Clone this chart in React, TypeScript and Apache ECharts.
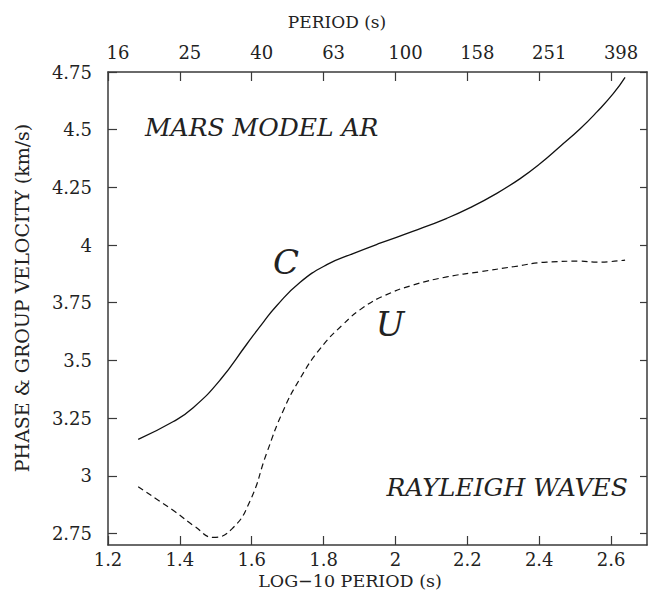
import React, { useEffect, useRef } from "react";
import * as echarts from "echarts";

// Axis ticks
const xTicks = [1.2, 1.4, 1.6, 1.8, 2, 2.2, 2.4, 2.6];
const periodLabels = ["16", "25", "40", "63", "100", "158", "251", "398"];
const yTicks = [2.75, 3, 3.25, 3.5, 3.75, 4, 4.25, 4.5, 4.75];

// Phase velocity C (solid)
const logPeriodC = [1.284, 1.382, 1.437, 1.512, 1.586, 1.632, 1.67, 1.734, 1.809, 1.882, 1.957, 2.05, 2.143, 2.208, 2.282, 2.347, 2.402, 2.458, 2.514, 2.56, 2.606, 2.639];
const phaseVelocity = [3.158, 3.235, 3.295, 3.415, 3.57, 3.665, 3.738, 3.838, 3.915, 3.963, 4.008, 4.06, 4.116, 4.162, 4.224, 4.288, 4.352, 4.427, 4.504, 4.576, 4.656, 4.727];

// Group velocity U (dashed)
const logPeriodU = [1.284, 1.386, 1.442, 1.493, 1.545, 1.595, 1.642, 1.687, 1.734, 1.79, 1.854, 1.911, 1.971, 2.05, 2.143, 2.235, 2.328, 2.421, 2.514, 2.56, 2.639];
const groupVelocity = [2.952, 2.845, 2.78, 2.733, 2.77, 2.89, 3.1, 3.28, 3.42, 3.55, 3.656, 3.73, 3.782, 3.827, 3.862, 3.884, 3.906, 3.926, 3.93, 3.926, 3.935];

const fmt = (v: number) => String(Math.round(v * 100) / 100);

export default function App() {
  const ref = useRef<HTMLDivElement>(null);
  useEffect(() => {
    const chart = echarts.init(ref.current!, null, { renderer: "svg" });
    const font = "DejaVu Serif";
    const ink = "#222";
    const frame = "#3a3a3a";
    const axisLine = { show: true, onZero: false, lineStyle: { color: frame, width: 1.5 } };
    const tickStyle = { color: frame, width: 1.2 };
    const option: any = {
      animation: false,
      backgroundColor: "#ffffff",
      grid: { left: 108, right: 4, top: 72, bottom: 52, containLabel: false },
      xAxis: [
        {
          type: "value", position: "bottom", min: 1.2, max: 2.7,
          axisLine,
          axisTick: { show: true, inside: true, length: 9, customValues: xTicks, lineStyle: tickStyle },
          axisLabel: { customValues: xTicks, margin: 5, fontFamily: font, fontSize: 18, color: ink, formatter: (v: number) => fmt(v) },
          splitLine: { show: false },
        },
        {
          type: "value", position: "top", min: 1.2, max: 2.7,
          axisLine,
          axisTick: { show: true, inside: true, length: 9, customValues: xTicks, lineStyle: tickStyle },
          axisLabel: {
            customValues: xTicks, margin: 11, fontFamily: font, fontSize: 18, color: ink,
            padding: [0, 0, 0, 20],
            formatter: (v: number) => {
              const i = xTicks.findIndex((t) => Math.abs(t - v) < 1e-6);
              return i >= 0 ? periodLabels[i] : "";
            },
          },
          splitLine: { show: false },
        },
      ],
      yAxis: [
        {
          type: "value", position: "left", min: 2.7, max: 4.75,
          axisLine,
          axisTick: { show: true, inside: true, length: 9, customValues: yTicks, lineStyle: tickStyle },
          axisLabel: { customValues: yTicks, margin: 16, fontFamily: font, fontSize: 18, color: ink, formatter: (v: number) => fmt(v) },
          splitLine: { show: false },
        },
        {
          type: "value", position: "right", min: 2.7, max: 4.75,
          axisLine,
          axisTick: { show: true, inside: true, length: 7, customValues: yTicks, lineStyle: tickStyle },
          axisLabel: { show: false },
          splitLine: { show: false },
        },
      ],
      series: [
        {
          name: "C", type: "line", xAxisIndex: 0, yAxisIndex: 0,
          data: logPeriodC.map((x, i) => [x, phaseVelocity[i]]),
          showSymbol: false, smooth: 0.5,
          lineStyle: { color: "#111", width: 1.3, type: "solid" },
        },
        {
          name: "U", type: "line", xAxisIndex: 0, yAxisIndex: 0,
          data: logPeriodU.map((x, i) => [x, groupVelocity[i]]),
          showSymbol: false, smooth: 0.5,
          lineStyle: { color: "#111", width: 1.2, type: [6, 4] },
        },
      ],
      graphic: [
        { type: "text", x: 337, y: 22, style: { text: "PERIOD (s)", font: `17px '${font}'`, fill: ink, align: "center", verticalAlign: "middle" } },
        { type: "text", x: 350, y: 581, style: { text: "LOG\u221210 PERIOD (s)", font: `17.5px '${font}'`, fill: ink, align: "center", verticalAlign: "middle" } },
        { type: "text", x: 22, y: 298, rotation: Math.PI / 2, style: { text: "PHASE & GROUP VELOCITY (km/s)", font: `19px '${font}'`, fill: ink, align: "center", verticalAlign: "middle" } },
        { type: "text", x: 145, y: 127, style: { text: "MARS MODEL AR", font: `italic 25px '${font}'`, fill: ink, align: "left", verticalAlign: "middle" } },
        { type: "text", x: 628, y: 487, style: { text: "RAYLEIGH WAVES", font: `italic 25px '${font}'`, fill: ink, align: "right", verticalAlign: "middle" } },
        { type: "text", x: 286, y: 262, style: { text: "C", font: `italic 34px '${font}'`, fill: ink, align: "center", verticalAlign: "middle" } },
        { type: "text", x: 390, y: 324, style: { text: "U", font: `italic 34px '${font}'`, fill: ink, align: "center", verticalAlign: "middle" } },
      ],
    };
    chart.setOption(option);
    return () => chart.dispose();
  }, []);
  return <div ref={ref} style={{ position: "absolute", left: 0, top: 0, width: 651, height: 597 }} />;
}
